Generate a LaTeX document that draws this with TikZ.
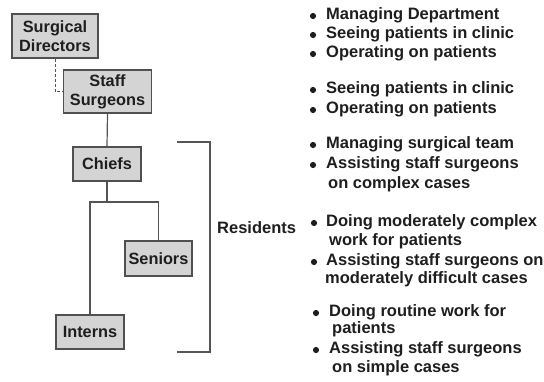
\documentclass[tikz,border=0pt]{standalone}
\usepackage{fontspec}
\setmainfont{Liberation Sans}
\begin{document}
\begin{tikzpicture}[x=1pt,y=-1pt,
  box/.style={draw=boxline,fill=boxfill,line width=1.2pt,inner sep=0pt,align=center,
    font=\bfseries\fontsize{16.3}{19}\selectfont,text=txt},
  link/.style={draw=linkc,line width=1.2pt},
  item/.style={anchor=base west,inner sep=0pt,font=\bfseries\fontsize{16.5}{19}\selectfont,text=txt},
  dot/.style={circle,fill=txt,inner sep=0pt,minimum size=6.2pt}]
\definecolor{boxfill}{HTML}{D4D4D4}
\definecolor{boxline}{HTML}{505050}
\definecolor{linkc}{HTML}{555555}
\definecolor{txt}{HTML}{1E1E1E}
\useasboundingbox (0,0) rectangle (544,381);
% boxes
\node[box,minimum width=86pt,minimum height=44pt] (sd) at (55,36) {Surgical\\Directors};
\node[box,minimum width=88pt,minimum height=43pt] (ss) at (107.5,91.5) {Staff\\Surgeons};
\node[box,minimum width=68pt,minimum height=34pt] (ch) at (107,164) {Chiefs};
\node[box,minimum width=67pt,minimum height=35pt] (se) at (158.5,258.5) {Seniors};
\node[box,minimum width=68pt,minimum height=34pt] (in) at (90,332) {Interns};
% connectors
\draw[link,dashed,dash pattern=on 3pt off 2pt,line width=1pt] (sd.south) |- (ss.west);
\draw[link] (ss.south) -- (ch.north);
\coordinate (j) at (107,202);
\draw[link] (ch.south) -- (j);
\draw[link] (in.north) |- (j) -| (se.north);
% bracket
\coordinate (b1) at (177,142);
\coordinate (b2) at (210,142);
\coordinate (b3) at (210,352);
\coordinate (b4) at (177,352);
\draw[link] (b1) -- (b2) -- (b3) -- (b4);
\node[item] (res) at (217,233) {Residents};
% group 1
\node[dot] (d1) at (313,16) {};
\node[item] (t1) at (326,19) {Managing Department};
\node[dot] (d2) at (313,35) {};
\node[item] (t2) at (326,38) {Seeing patients in clinic};
\node[dot] (d3) at (313,54) {};
\node[item] (t3) at (326,57) {Operating on patients};
% group 2
\node[dot] (d4) at (313,90) {};
\node[item] (t4) at (326,93) {Seeing patients in clinic};
\node[dot] (d5) at (313,110) {};
\node[item] (t5) at (326,113) {Operating on patients};
% group 3
\node[dot] (d6) at (313,145) {};
\node[item] (t6) at (326,148) {Managing surgical team};
\node[dot] (d7) at (313,165) {};
\node[item] (t7) at (326,168) {Assisting staff surgeons};
\node[item] (t8) at (328,188) {on complex cases};
% group 4
\node[dot] (d8) at (314,223) {};
\node[item] (t9) at (326,226) {Doing moderately complex};
\node[item] (t10) at (329,245) {work for patients};
\node[dot] (d9) at (314,262) {};
\node[item] (t11) at (326,265) {Assisting staff surgeons on};
\node[item] (t12) at (325,283) {moderately difficult cases};
% group 5
\node[dot] (d10) at (316,313) {};
\node[item] (t13) at (329,316) {Doing routine work for};
\node[item] (t14) at (332,333) {patients};
\node[dot] (d11) at (316,350) {};
\node[item] (t15) at (329,353) {Assisting staff surgeons};
\node[item] (t16) at (332,372) {on simple cases};
\end{tikzpicture}
\end{document}
